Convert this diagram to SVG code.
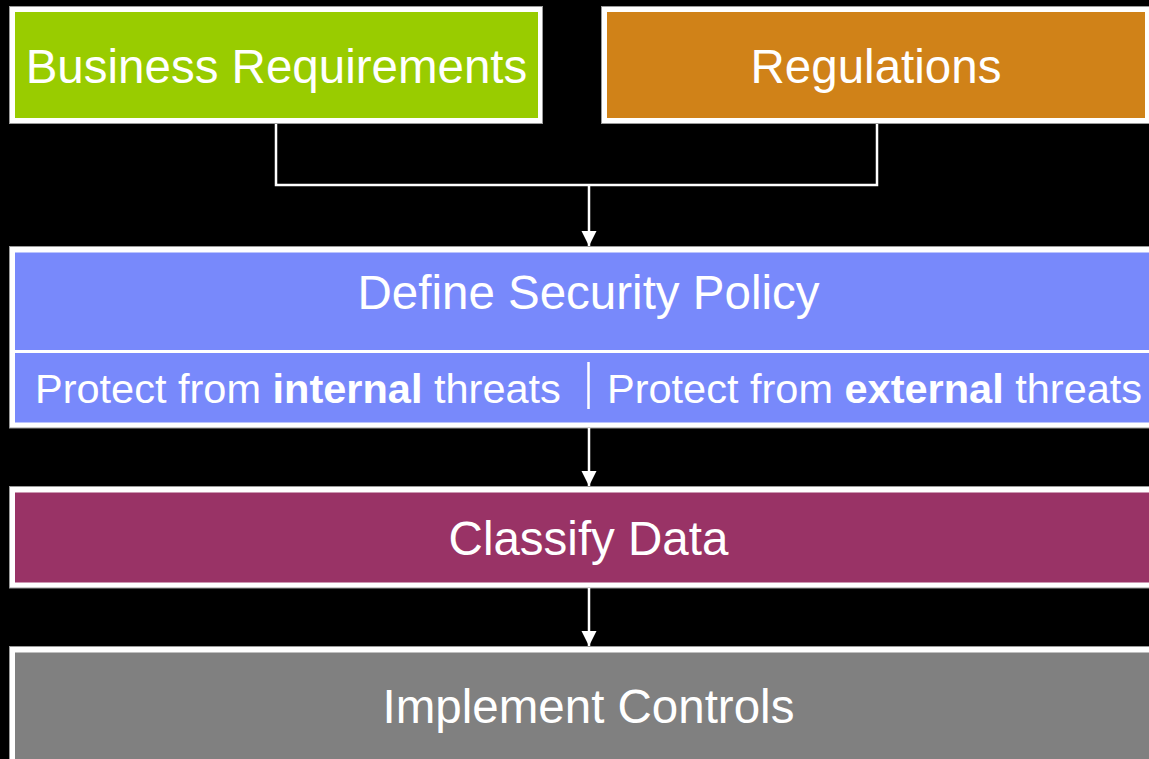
<svg xmlns="http://www.w3.org/2000/svg" width="1149" height="759" viewBox="0 0 1149 759">
  <defs>
    <style>
      .frame { fill: #ffffff; stroke: #9a9a9a; stroke-width: 1; }
      .lbl { font-family: "Liberation Sans", Arial, sans-serif; fill: #ffffff; font-size: 47.5px; text-anchor: middle; }
      .sub { font-family: "Liberation Sans", Arial, sans-serif; fill: #ffffff; font-size: 41.5px; }
      .conn { fill: none; stroke: #ffffff; stroke-width: 2.5; }
      .div { stroke: #ffffff; stroke-width: 2.5; }
    </style>
    <marker id="arrow" viewBox="0 0 15 16" refX="15" refY="7.5" markerWidth="15" markerHeight="16" markerUnits="userSpaceOnUse" orient="auto">
      <path d="M0,0 L15,7.5 L0,15 Z" fill="#ffffff"/>
    </marker>
  </defs>
  <rect x="0" y="0" width="1149" height="759" fill="#000000"/>

  <g id="business-requirements">
    <rect class="frame" x="9.5" y="6.5" width="533" height="117"/>
    <rect x="15" y="12" width="523" height="106" fill="#99CC00"/>
    <text class="lbl" x="276.5" y="83">Business Requirements</text>
  </g>

  <g id="regulations">
    <rect class="frame" x="601.5" y="6.5" width="560" height="117"/>
    <rect x="607" y="12" width="538" height="106" fill="#D08218"/>
    <text class="lbl" x="876" y="83">Regulations</text>
  </g>

  <g id="define-security-policy">
    <rect class="frame" x="9.5" y="246.5" width="1160" height="181.5"/>
    <rect x="15" y="252.5" width="1150" height="170" fill="#7889FB"/>
    <rect x="15" y="350" width="1150" height="3" fill="#ffffff"/>
    <text class="lbl" x="588.5" y="309">Define Security Policy</text>
    <text class="sub" x="35" y="403">Protect from <tspan font-weight="bold">internal</tspan> threats</text>
    <line class="div" x1="588.5" y1="362" x2="588.5" y2="409"/>
    <text class="sub" x="607" y="403">Protect from <tspan font-weight="bold">external</tspan> threats</text>
  </g>

  <g id="classify-data">
    <rect class="frame" x="9.5" y="486.5" width="1160" height="101.5"/>
    <rect x="15" y="492.5" width="1150" height="90" fill="#993366"/>
    <text class="lbl" x="588.5" y="555">Classify Data</text>
  </g>

  <g id="implement-controls">
    <rect class="frame" x="9.5" y="646.5" width="1160" height="130"/>
    <rect x="15" y="652.5" width="1150" height="120" fill="#808080"/>
    <text class="lbl" x="588.5" y="723">Implement Controls</text>
  </g>

  <g id="connectors">
    <polyline class="conn" points="276,124 276,185 877,185 877,124"/>
    <line class="conn" x1="589" y1="185" x2="589" y2="246" marker-end="url(#arrow)"/>
    <line class="conn" x1="589" y1="428" x2="589" y2="486" marker-end="url(#arrow)"/>
    <line class="conn" x1="589" y1="588" x2="589" y2="646" marker-end="url(#arrow)"/>
  </g>
</svg>
